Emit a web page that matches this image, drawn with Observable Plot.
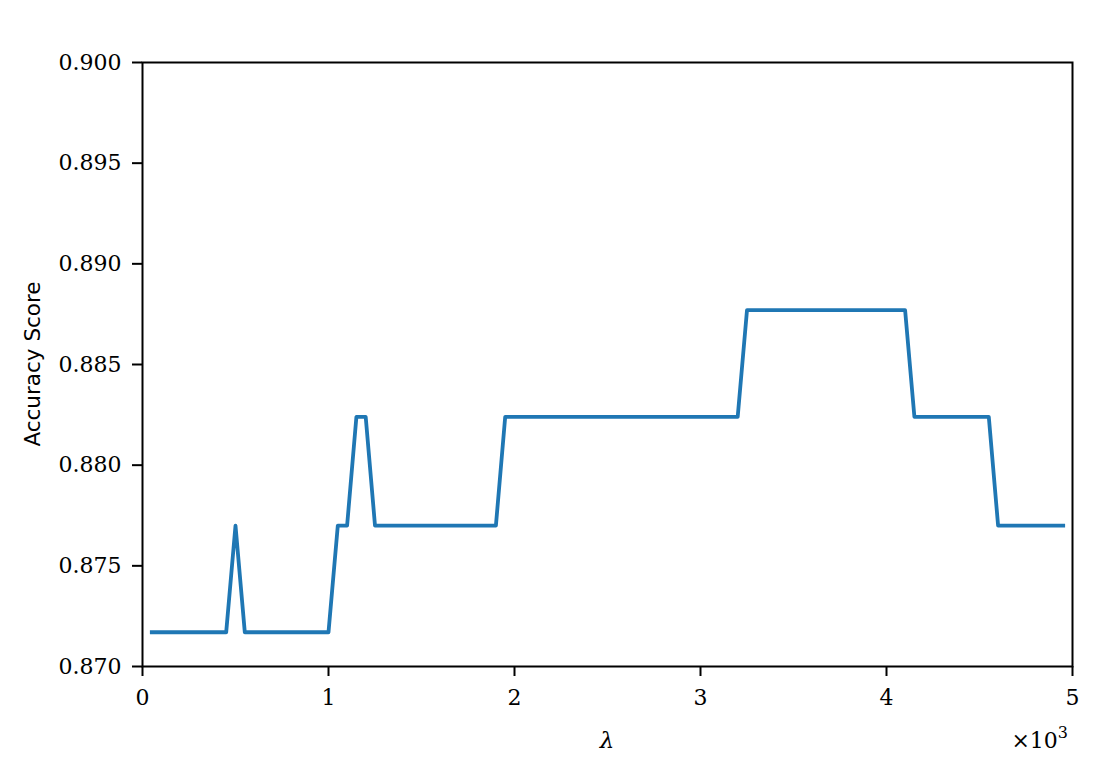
<!DOCTYPE html>
<html>
<head>
<meta charset="utf-8">
<script src="https://cdn.jsdelivr.net/npm/d3@7"></script>
<script src="https://cdn.jsdelivr.net/npm/@observablehq/plot@0.6"></script>
<style>
  html, body { margin: 0; padding: 0; background: #fff; }
  #chart { width: 1098px; height: 773px; }
</style>
</head>
<body>
<div id="chart"></div>
<script>
// λ values
const lambdas = [
  50, 100, 150, 200, 250, 300, 350, 400, 450, 500,
  550, 600, 650, 700, 750, 800, 850, 900, 950, 1000,
  1050, 1100, 1150, 1200, 1250, 1300, 1350, 1400, 1450, 1500,
  1550, 1600, 1650, 1700, 1750, 1800, 1850, 1900, 1950, 2000,
  2050, 2100, 2150, 2200, 2250, 2300, 2350, 2400, 2450, 2500,
  2550, 2600, 2650, 2700, 2750, 2800, 2850, 2900, 2950, 3000,
  3050, 3100, 3150, 3200, 3250, 3300, 3350, 3400, 3450, 3500,
  3550, 3600, 3650, 3700, 3750, 3800, 3850, 3900, 3950, 4000,
  4050, 4100, 4150, 4200, 4250, 4300, 4350, 4400, 4450, 4500,
  4550, 4600, 4650, 4700, 4750, 4800, 4850, 4900, 4950
];
// accuracy scores
const accuracy = [
  0.8717, 0.8717, 0.8717, 0.8717, 0.8717, 0.8717, 0.8717, 0.8717, 0.8717, 0.8770,
  0.8717, 0.8717, 0.8717, 0.8717, 0.8717, 0.8717, 0.8717, 0.8717, 0.8717, 0.8717,
  0.8770, 0.8770, 0.8824, 0.8824, 0.8770, 0.8770, 0.8770, 0.8770, 0.8770, 0.8770,
  0.8770, 0.8770, 0.8770, 0.8770, 0.8770, 0.8770, 0.8770, 0.8770, 0.8824, 0.8824,
  0.8824, 0.8824, 0.8824, 0.8824, 0.8824, 0.8824, 0.8824, 0.8824, 0.8824, 0.8824,
  0.8824, 0.8824, 0.8824, 0.8824, 0.8824, 0.8824, 0.8824, 0.8824, 0.8824, 0.8824,
  0.8824, 0.8824, 0.8824, 0.8824, 0.8877, 0.8877, 0.8877, 0.8877, 0.8877, 0.8877,
  0.8877, 0.8877, 0.8877, 0.8877, 0.8877, 0.8877, 0.8877, 0.8877, 0.8877, 0.8877,
  0.8877, 0.8877, 0.8824, 0.8824, 0.8824, 0.8824, 0.8824, 0.8824, 0.8824, 0.8824,
  0.8824, 0.8770, 0.8770, 0.8770, 0.8770, 0.8770, 0.8770, 0.8770, 0.8770
];
const xTicks = [0, 1000, 2000, 3000, 4000, 5000];
const yTicks = [0.870, 0.875, 0.880, 0.885, 0.890, 0.895, 0.900];
const xLabel = "λ";
const yLabel = "Accuracy Score";

const data = lambdas.map((l, i) => ({lambda: l, acc: accuracy[i]}));

const W = 1098, H = 773;
const margin = {left: 142, right: 26, top: 62, bottom: 107};
const serif = "'DejaVu Serif', serif";
const tickFont = 22;

const plot = Plot.plot({
  width: W,
  height: H,
  marginLeft: margin.left,
  marginRight: margin.right,
  marginTop: margin.top,
  marginBottom: margin.bottom,
  style: {fontFamily: serif, fontSize: tickFont + "px", color: "#000", background: "#fff"},
  x: {domain: [0, 5000], label: null},
  y: {domain: [0.870, 0.900], label: null},
  marks: [
    Plot.axisX({ticks: xTicks, tickFormat: d => String(d / 1000), tickSize: 10, tickPadding: 13,
      strokeWidth: 2, fontSize: tickFont, fontFamily: serif, fill: "#000", label: null}),
    Plot.axisY({ticks: yTicks, tickFormat: d3.format(".3f"), tickSize: 10, tickPadding: 11,
      strokeWidth: 2, fontSize: tickFont, fontFamily: serif, fill: "#000", label: null}),
    Plot.line(data, {x: "lambda", y: "acc", stroke: "#1f77b4", strokeWidth: 3.8, strokeLinejoin: "round", strokeLinecap: "square"}),
    Plot.frame({stroke: "#000", strokeWidth: 2})
  ]
});

const svg = d3.select(plot);
svg.append("text")
  .attr("x", (margin.left + W - margin.right) / 2)
  .attr("y", 748)
  .attr("text-anchor", "middle")
  .attr("font-family", serif)
  .attr("font-style", "italic")
  .attr("font-size", "23px")
  .text(xLabel);
svg.append("text")
  .attr("transform", `translate(40,${(margin.top + H - margin.bottom) / 2}) rotate(-90)`)
  .attr("text-anchor", "middle")
  .attr("font-family", "'DejaVu Sans', sans-serif")
  .attr("font-size", "21.5px")
  .text(yLabel);
const mult = svg.append("text")
  .attr("x", 1068)
  .attr("y", 748)
  .attr("text-anchor", "end")
  .attr("font-family", serif)
  .attr("font-size", "22px");
mult.append("tspan").text("×10");
mult.append("tspan").attr("dy", "-10").attr("font-size", "16px").text("3");

document.getElementById("chart").appendChild(plot);
</script>
</body>
</html>
